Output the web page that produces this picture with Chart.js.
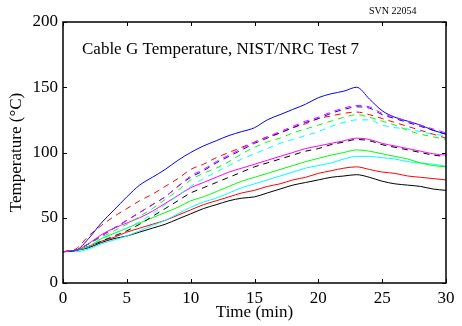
<!DOCTYPE html>
<html>
<head>
<meta charset="utf-8">
<script src="https://cdn.jsdelivr.net/npm/chart.js@4.4.1/dist/chart.umd.min.js"></script>
<style>
  html, body { margin: 0; padding: 0; background: #fff; }
  #wrap { width: 462px; height: 326px; }
</style>
</head>
<body>
<div id="wrap"><canvas id="tempChart"></canvas></div>
<script>
// time in minutes
const minutes = [0,1,2,3,4,5,6,7,8,9,10,11,12,13,14,15,16,17,18,19,20,21,22,23,24,25,26,27,28,29,30];

// solid lines
const solidBlue    = [24,25,34,46,56,66,75,81,87,94,100,105,109,113,116,119,125,129,133,137,142,145,147,150,141,132,127,124,121,117,114];
const solidMagenta = [24,25,30,37,42,46,50,55,61,67,73,77,81,85,88,91,94,97,100,103,105,107,109,111,110,107,105,103,101,99,98];
const solidGreen   = [24,25,28,34,38,42,46,50,54,58,63,66,70,74,78,81,84,87,90,93,95.5,98,100,102,101,99,97,95,92,90,89];
const solidCyan    = [24,24,26,30,33,36,40,44,48,53,58,62,65,69,73,76,79,82,85,88,90,92,95,97,97,96,95,93,92,91,89.5];
const solidRed     = [24,25,28,32,35,39,42,45,48,52,56,60,63,66,69,71,74,76,79,81,84,86,88,89,87,85,84,82,81,80,79];
const solidBlack   = [24,25,27,31,34,36,39,42,45,49,53,57,60,63,65,66,69,72,75,77,79,81,82,83,81,78,76,75,74,72,71];

// dashed lines
const dashRed      = [24,26,36,44,51,57,63,68,74,80,87,91,96,100,104,108,112,115,119,122,126,128,130,131,129,126,123,120,117,114,111];
const dashMagenta  = [24,25,30,36,42,48,54,60,66,74,82,87,93,98,103,108,112,116,120,124,127,131,134,136,135,130,127,124,121,118,115];
const dashBlue     = [24,25,30,36,42,48,54,60,66,74,81,86,92,97,102,107,111,115,119,123,126,130,133,135,134,129,126,123,120,117,114];
const dashGreen    = [24,25,30,35,40,45,51,57,64,71,79,84,88,93,99,104,108,111,115,118,121,124,127,129,127,124,121,117,114,112,110];
const dashCyan     = [24,25,28,33,38,42,47,53,60,67,74,80,85,90,95,99,103,107,110,113,116,120,123,125,125,121,119,118,116,114,113];
const dashBlack    = [24,25,28,32,36,40,45,51,57,63,69,73,77,81,85,89,92,95,98,101,103,106,108,110,109,106,104,102,100,98,97];

const xTicks = [0,5,10,15,20,25,30];
const yTicks = [0,50,100,150,200];

function series(values, color, dashed) {
    return {
        data: values.map((v, i) => ({ x: minutes[i], y: v })),
        borderColor: color,
        borderWidth: 1,
        borderDash: dashed ? [6, 5] : [],
        pointRadius: 0,
        fill: false,
        cubicInterpolationMode: 'monotone'
    };
}

// box round the plot with inward ticks on all four sides, plus the texts
const framePlugin = {
    id: 'frame',
    afterDatasetsDraw(chart) {
        const { ctx, chartArea: a, scales: { x, y } } = chart;
        ctx.save();
        ctx.strokeStyle = '#000';
        ctx.lineWidth = 1.5;
        ctx.strokeRect(a.left, a.top, a.right - a.left, a.bottom - a.top);
        ctx.lineWidth = 1;
        const len = 4;
        ctx.beginPath();
        xTicks.forEach(t => {
            const px = Math.round(x.getPixelForValue(t)) + 0.5;
            ctx.moveTo(px, a.bottom); ctx.lineTo(px, a.bottom - len);
            ctx.moveTo(px, a.top); ctx.lineTo(px, a.top + len);
        });
        yTicks.forEach(t => {
            const py = Math.round(y.getPixelForValue(t)) + 0.5;
            ctx.moveTo(a.left, py); ctx.lineTo(a.left + len, py);
            ctx.moveTo(a.right, py); ctx.lineTo(a.right - len, py);
        });
        ctx.stroke();

        ctx.fillStyle = '#000';
        ctx.textBaseline = 'alphabetic';
        ctx.textAlign = 'left';
        ctx.font = '17px "Liberation Serif", serif';
        ctx.fillText('Cable G Temperature, NIST/NRC Test 7', a.left + 19, 54);
        ctx.font = '10px "Liberation Serif", serif';
        ctx.fillText('SVN 22054', 369, 14);
        ctx.restore();
    }
};

const tickFont = { family: '"Liberation Serif", serif', size: 17 };

new Chart(document.getElementById('tempChart').getContext('2d'), {
    type: 'line',
    data: {
        datasets: [
            series(dashMagenta, '#ff00ff', true),
            series(dashBlue, '#0000ff', true),
            series(dashRed, '#ff0000', true),
            series(dashGreen, '#00ff00', true),
            series(dashCyan, '#00ffff', true),
            series(dashBlack, '#000000', true),
            series(solidBlue, '#0000ff', false),
            series(solidMagenta, '#ff00ff', false),
            series(solidGreen, '#00ff00', false),
            series(solidCyan, '#00ffff', false),
            series(solidRed, '#ff0000', false),
            series(solidBlack, '#000000', false)
        ]
    },
    options: {
        responsive: true,
        maintainAspectRatio: false,
        animation: false,
        layout: { padding: { top: 22, right: 16, left: 0, bottom: 0 } },
        plugins: { legend: { display: false }, tooltip: { enabled: false } },
        scales: {
            x: {
                type: 'linear',
                min: 0,
                max: 30,
                afterFit: s => { s.height = 43; },
                afterBuildTicks: s => { s.ticks = xTicks.map(v => ({ value: v })); },
                grid: { display: false, drawTicks: false },
                border: { display: false },
                ticks: { color: '#000', font: tickFont, padding: 5, maxRotation: 0 },
                title: { display: true, text: 'Time (min)', color: '#000', font: tickFont, padding: { bottom: 3 } }
            },
            y: {
                min: 0,
                max: 200,
                afterFit: s => { s.width = 63; },
                afterBuildTicks: s => { s.ticks = yTicks.map(v => ({ value: v })); },
                grid: { display: false, drawTicks: false },
                border: { display: false },
                ticks: { color: '#000', font: tickFont, padding: 5 },
                title: { display: true, text: 'Temperature (°C)', color: '#000', font: tickFont, padding: { top: 6 } }
            }
        }
    },
    plugins: [framePlugin]
});
</script>
</body>
</html>
